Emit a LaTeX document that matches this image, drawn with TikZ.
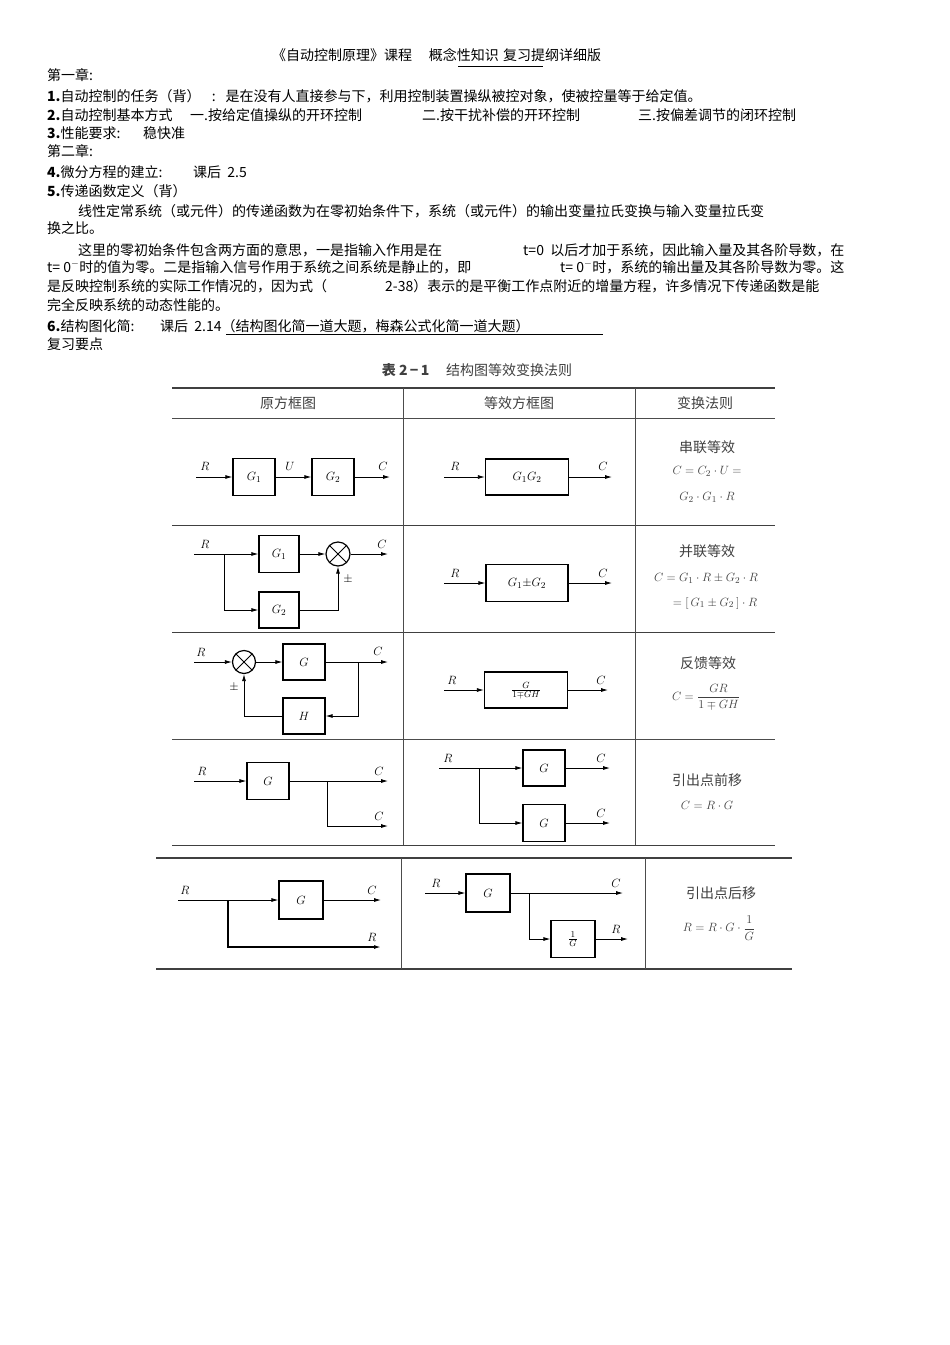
\documentclass[tikz,border=0pt]{standalone}
\usepackage{fontspec}
\setmainfont{Liberation Sans}
\newfontfamily\cjk{Noto Sans CJK SC}
\usetikzlibrary{arrows.meta}
\begin{document}
\begin{tikzpicture}[x=1pt,y=-1pt,
  txt/.style={anchor=base west,inner sep=0,font=\fontsize{14}{16}\selectfont\cjk},
  tb/.style={inner sep=0,font=\fontsize{14}{16}\selectfont\cjk\color{black!75}},
  lab/.style={inner sep=0,font=\fontsize{13}{15}\selectfont},
  blk/.style={draw,line width=1.2pt,inner sep=0,font=\fontsize{13}{15}\selectfont},
  arr/.style={-{Latex[length=7,width=4]},line width=0.8pt},
  ln/.style={line width=0.8pt},
  sumj/.style={draw,circle,line width=1.2pt,minimum size=24,inner sep=0,path picture={\draw[line width=1pt] (path picture bounding box.south west)--(path picture bounding box.north east) (path picture bounding box.north west)--(path picture bounding box.south east);}},
  rule/.style={line width=0.7pt,black!70}]
\useasboundingbox (0,0) rectangle (950,1345);
\fill[white] (0,0) rectangle (950,1345);
% ---- text ----
\node[txt] (t0) at (272,60) {《自动控制原理》课程\hspace{1.2em}概念性知识\hspace{0.3em}复习提纲详细版};
\draw (458,66) -- (543,66);
\node[txt] (t1) at (47,80) {第一章:};
\node[txt] (t2) at (47,101) {\textbf{1.}自动控制的任务（背）\hspace{0.8em}:\hspace{0.7em}是在没有人直接参与下，利用控制装置操纵被控对象，使被控量等于给定值。};
\node[txt] (t3) at (47,120) {\textbf{2.}自动控制基本方式};
\node[txt] (t3a) at (190,120) {一.按给定值操纵的开环控制};
\node[txt] (t3b) at (422,120) {二.按干扰补偿的开环控制};
\node[txt] (t3c) at (638,120) {三.按偏差调节的闭环控制};
\node[txt] (t4) at (47,138) {\textbf{3.}性能要求:};
\node[txt] (t4a) at (143,138) {稳快准};
\node[txt] (t5) at (47,156) {第二章:};
\node[txt] (t6) at (47,177) {\textbf{4.}微分方程的建立:};
\node[txt] (t6a) at (193,177) {课后\ \ 2.5};
\node[txt] (t7) at (47,196) {\textbf{5.}传递函数定义（背）};
\node[txt] (t8) at (78,216) {线性定常系统（或元件）的传递函数为在零初始条件下，系统（或元件）的输出变量拉氏变换与输入变量拉氏变};
\node[txt] (t9) at (47,233) {换之比。};
\node[txt] (t10) at (78,255) {这里的零初始条件包含两方面的意思，一是指输入作用是在};
\node[txt] (t10a) at (523,255) {t=0\ \ 以后才加于系统，因此输入量及其各阶导数，在};
\node[txt] (t11) at (47,272) {t= 0$^{-}$时的值为零。二是指输入信号作用于系统之间系统是静止的，即};
\node[txt] (t11a) at (560,272) {t= 0$^{-}$时，系统的输出量及其各阶导数为零。这};
\node[txt] (t12) at (47,291) {是反映控制系统的实际工作情况的，因为式（};
\node[txt] (t12a) at (385,291) {2-38）表示的是平衡工作点附近的增量方程，许多情况下传递函数是能};
\node[txt] (t13) at (47,310) {完全反映系统的动态性能的。};
\node[txt] (t14) at (47,331) {\textbf{6.}结构图化简:};
\node[txt] (t14a) at (160,331) {课后\ \ 2.14（结构图化简一道大题，梅森公式化简一道大题）};
\draw (226,334) -- (603,334);
\node[txt] (t15) at (47,349) {复习要点};
\node[tb] (cap) at (477,370) {\textbf{表 2\,−\,1}\hspace{1.2em}结构图等效变换法则};
% ---- table 1 ----
\draw[line width=1.4pt,black!75] (172,388) -- (775,388);
\draw[rule] (172,418) -- (775,418);
\draw[line width=1pt,black!75] (172,525) -- (775,525) (172,632) -- (775,632);
\draw[rule] (172,739) -- (775,739);
\draw[line width=1pt,black!75] (172,845) -- (775,845);
\draw[rule] (403,388) -- (403,845) (635,388) -- (635,845);
\node[tb] (h1) at (288,403) {原方框图};
\node[tb] (h2) at (519,403) {等效方框图};
\node[tb] (h3) at (705,403) {变换法则};
% row 1
\coordinate (a1) at (196,477); \coordinate (a1e) at (390,477);
\node[blk,minimum width=42,minimum height=37] (g11) at (254,477) {$G_1$};
\node[blk,minimum width=42,minimum height=37] (g12) at (333,477) {$G_2$};
\draw[arr] (a1) -- (g11); \draw[arr] (g11) -- (g12); \draw[arr] (g12) -- (a1e);
\node[lab] at (205,466) {$R$}; \node[lab] at (290,466) {$U$}; \node[lab] at (383,466) {$C$};
\coordinate (b1) at (444,477); \coordinate (b1e) at (612,477);
\node[blk,minimum width=83,minimum height=36] (g13) at (527,477) {$G_1G_2$};
\draw[arr] (b1) -- (g13); \draw[arr] (g13) -- (b1e);
\node[lab] at (455,466) {$R$}; \node[lab] at (603,466) {$C$};
\node[tb] (r1a) at (707,447) {串联等效};
\node[lab,black!75] (r1b) at (707,471) {$C=C_2\cdot U=$};
\node[lab,black!75] (r1c) at (707,497) {$G_2\cdot G_1\cdot R$};
% row 2
\coordinate (a2) at (194,554); \coordinate (a2b) at (224,554); \coordinate (a2e) at (388,554);
\node[blk,minimum width=40,minimum height=37] (g21) at (279,554) {$G_1$};
\node[blk,minimum width=40,minimum height=36] (g22) at (279,610) {$G_2$};
\node[sumj] (s2) at (338,554) {};
\draw[ln] (a2) -- (a2b); \draw[arr] (a2b) -- (g21); \draw[arr] (g21) -- (s2); \draw[arr] (s2) -- (a2e);
\draw[arr] (a2b) |- (g22); \draw[arr] (g22) -| (s2.south);
\node[lab] at (348,579) {$\pm$};
\node[lab] at (205,544) {$R$}; \node[lab] at (382,544) {$C$};
\coordinate (b2) at (444,583); \coordinate (b2e) at (612,583);
\node[blk,minimum width=82,minimum height=37] (g23) at (527,583) {$G_1{\pm}G_2$};
\draw[arr] (b2) -- (g23); \draw[arr] (g23) -- (b2e);
\node[lab] at (455,573) {$R$}; \node[lab] at (603,573) {$C$};
\node[tb] (r2a) at (707,551) {并联等效};
\node[lab,black!75] (r2b) at (706,578) {$C=G_1\cdot R\pm G_2\cdot R$};
\node[lab,black!75] (r2c) at (715,603) {$=[\,G_1\pm G_2\,]\cdot R$};
% row 3
\coordinate (a3) at (194,662); \coordinate (a3f) at (358,662); \coordinate (a3e) at (388,662);
\node[sumj,minimum size=23] (s3) at (244,662) {};
\node[blk,minimum width=42,minimum height=36] (g31) at (304,662) {$G$};
\node[blk,minimum width=42,minimum height=36] (h3b) at (304,716) {$H$};
\draw[arr] (a3) -- (s3); \draw[arr] (s3) -- (g31); \draw[arr] (g31) -- (a3e);
\draw[arr] (a3f) |- (h3b); \draw[arr] (h3b) -| (s3.south);
\node[lab] at (234,687) {$\pm$};
\node[lab] at (201,652) {$R$}; \node[lab] at (378,651) {$C$};
\coordinate (b3) at (444,690); \coordinate (b3e) at (608,690);
\node[blk,minimum width=83,minimum height=36] (g33) at (526,690) {$\frac{G}{1\mp GH}$};
\draw[arr] (b3) -- (g33); \draw[arr] (g33) -- (b3e);
\node[lab] at (452,680) {$R$}; \node[lab] at (601,680) {$C$};
\node[tb] (r3a) at (708,663) {反馈等效};
\node[lab,black!75] (r3b) at (706,697) {$\displaystyle C=\frac{GR}{1\mp GH}$};
% row 4
\coordinate (a4) at (194,781); \coordinate (a4b) at (327,781); \coordinate (a4e) at (388,781); \coordinate (a4e2) at (388,826);
\node[blk,minimum width=42,minimum height=37] (g41) at (268,781) {$G$};
\draw[arr] (a4) -- (g41); \draw[arr] (g41) -- (a4e); \draw[arr] (a4b) |- (a4e2);
\node[lab] at (202,771) {$R$}; \node[lab] at (379,771) {$C$}; \node[lab] at (379,816) {$C$};
\coordinate (b4) at (439,768); \coordinate (b4b) at (479,768); \coordinate (b4e) at (610,768); \coordinate (b4e2) at (610,823);
\node[blk,minimum width=42,minimum height=36] (g42) at (544,768) {$G$};
\node[blk,minimum width=42,minimum height=37] (g43) at (544,823) {$G$};
\draw[ln] (b4) -- (b4b); \draw[arr] (b4b) -- (g42); \draw[arr] (g42) -- (b4e);
\draw[arr] (b4b) |- (g43); \draw[arr] (g43) -- (b4e2);
\node[lab] at (448,758) {$R$}; \node[lab] at (601,758) {$C$}; \node[lab] at (601,813) {$C$};
\node[tb] (r4a) at (707,780) {引出点前移};
\node[lab,black!75] (r4b) at (707,805) {$C=R\cdot G$};
% ---- table 2 ----
\draw[line width=1.2pt,black!75] (156,858) -- (792,858);
\draw[line width=1.2pt,black!75] (156,969) -- (792,969);
\draw[rule] (401,858) -- (401,969) (645,858) -- (645,969);
\coordinate (a5) at (178,900); \coordinate (a5b) at (228,900); \coordinate (a5e) at (381,900); \coordinate (a5e2) at (381,947);
\node[blk,minimum width=44,minimum height=38] (g51) at (301,900) {$G$};
\draw[ln] (a5) -- (a5b); \draw[arr] (a5b) -- (g51); \draw[arr] (g51) -- (a5e);
\draw[arr,line width=1.3pt] (a5b) |- (a5e2);
\node[lab] at (185,890) {$R$}; \node[lab] at (372,890) {$C$}; \node[lab] at (372,937) {$R$};
\coordinate (b5) at (425,893); \coordinate (b5b) at (529,893); \coordinate (b5e) at (623,893); \coordinate (b5e2) at (628,939);
\node[blk,minimum width=44,minimum height=38] (g52) at (488,893) {$G$};
\node[blk,minimum width=44,minimum height=37] (g53) at (573,939) {$\frac{1}{G}$};
\draw[arr] (b5) -- (g52); \draw[arr] (g52) -- (b5e);
\draw[arr] (b5b) |- (g53); \draw[arr] (g53) -- (b5e2);
\node[lab] at (436,883) {$R$}; \node[lab] at (616,883) {$C$}; \node[lab] at (616,929) {$R$};
\node[tb] (r5a) at (721,893) {引出点后移};
\node[lab,black!75] (r5b) at (719,928) {$\displaystyle R=R\cdot G\cdot\frac{1}{G}$};
\end{tikzpicture}
\end{document}
